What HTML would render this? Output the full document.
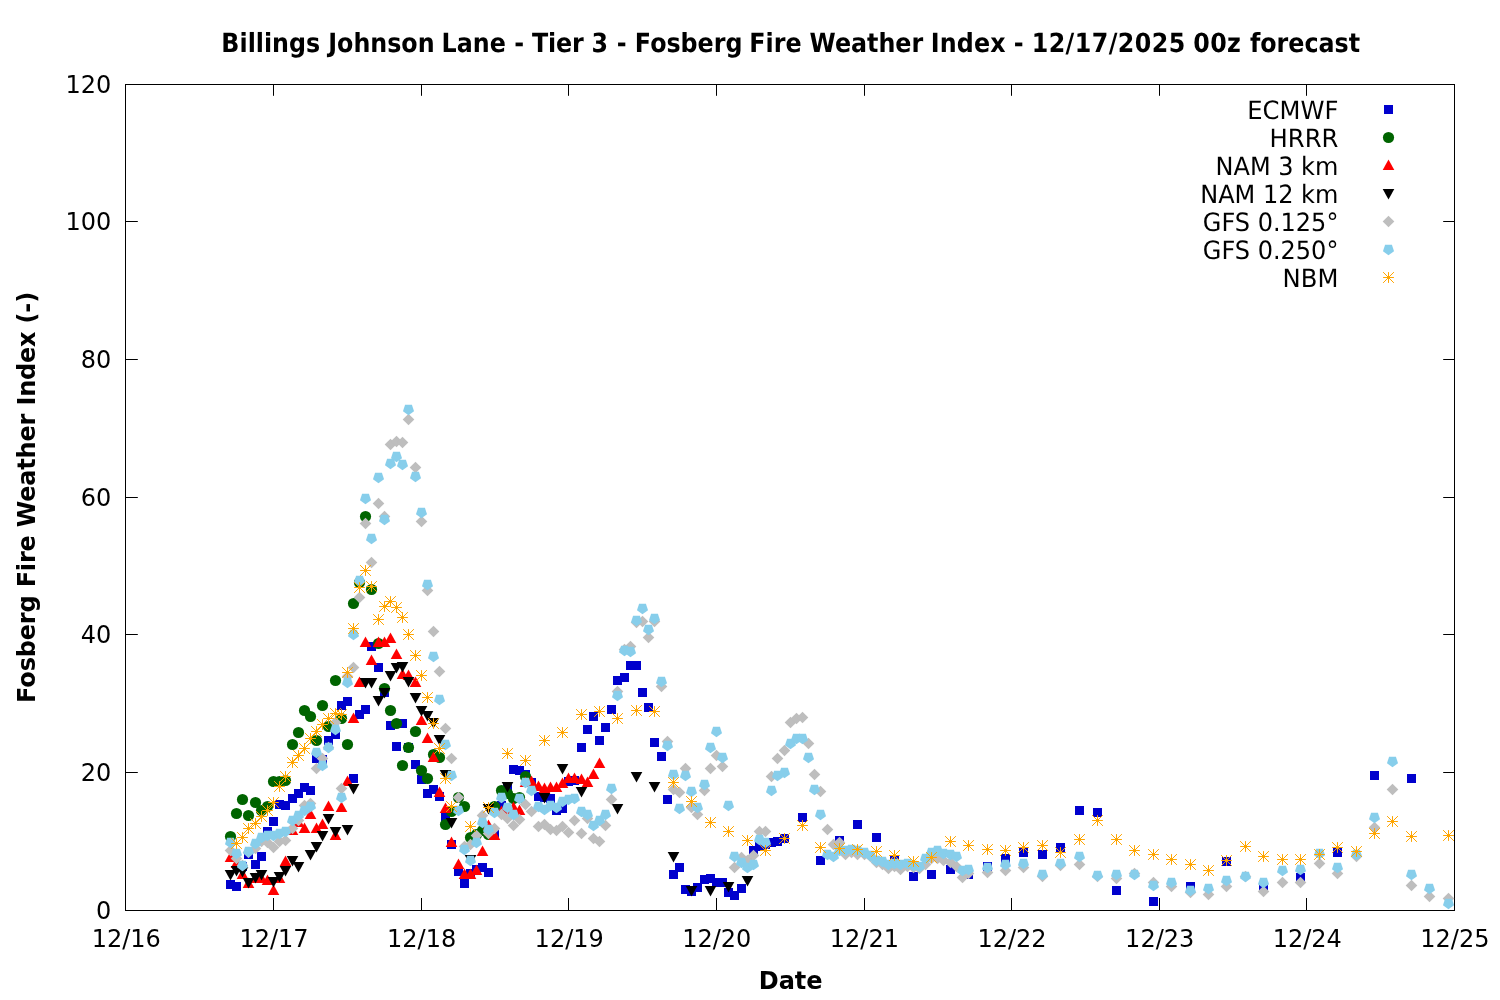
<!DOCTYPE html>
<html lang="en"><head><meta charset="utf-8"><title>Billings Johnson Lane - Tier 3 - Fosberg Fire Weather Index</title>
<style>html,body{margin:0;padding:0;background:#fff}svg{display:block}text{font-family:"DejaVu Sans","Liberation Sans",sans-serif;font-size:24px;fill:#000}.b{font-weight:bold}.g{text-rendering:geometricPrecision}.r{text-anchor:end}.m{text-anchor:middle}</style></head><body>
<svg width="1500" height="1000" viewBox="0 0 1500 1000">
<rect width="1500" height="1000" fill="#fff"/>
<text class="b g" transform="translate(0,52) scale(0.99,1.1)"><tspan x="223.61">Billings </tspan><tspan x="331.55">Johnson </tspan><tspan x="446.03">Lane </tspan><tspan x="519.56">- </tspan><tspan x="537.37" style="letter-spacing:-0.13px">Tier </tspan><tspan x="597.49">3 </tspan><tspan x="622.99">- </tspan><tspan x="641.29">Fosberg </tspan><tspan x="756.74" style="letter-spacing:0.12px">Fire </tspan><tspan x="817.73">Weather </tspan><tspan x="940.17" style="letter-spacing:0.15px">Index </tspan><tspan x="1024">- </tspan><tspan x="1042.1" style="letter-spacing:0.44px">12/17/2025 </tspan><tspan x="1205.21" style="letter-spacing:0.45px">00z </tspan><tspan x="1262.53">forecast</tspan></text>
<text class="b m" transform="translate(35,497.4) rotate(-90)" textLength="411">Fosberg Fire Weather Index (-)</text>
<text class="b m" x="790.7" y="989">Date</text>
<g fill="none" stroke="#000" stroke-width="1">
<rect x="125.5" y="84.5" width="1329.0" height="826.0"/>
<path d="M273.5,910.5V898M273.5,84.5V95.8M421.5,910.5V898M421.5,84.5V95.8M568.5,910.5V898M568.5,84.5V95.8M716.5,910.5V898M716.5,84.5V95.8M864.5,910.5V898M864.5,84.5V95.8M1011.5,910.5V898M1011.5,84.5V95.8M1159.5,910.5V898M1159.5,84.5V95.8M1306.5,910.5V898M1306.5,84.5V95.8M125.5,772.5H137.8M1454.5,772.5H1443.2M125.5,634.5H137.8M1454.5,634.5H1443.2M125.5,497.5H137.8M1454.5,497.5H1443.2M125.5,359.5H137.8M1454.5,359.5H1443.2M125.5,221.5H137.8M1454.5,221.5H1443.2"/>
</g>
<text class="m" x="126.3" y="947">12/16</text>
<text class="m" x="274" y="947">12/17</text>
<text class="m" x="421.6" y="947">12/18</text>
<text class="m" x="569.2" y="947">12/19</text>
<text class="m" x="716.8" y="947">12/20</text>
<text class="m" x="864.4" y="947">12/21</text>
<text class="m" x="1012" y="947">12/22</text>
<text class="m" x="1159.7" y="947">12/23</text>
<text class="m" x="1307.3" y="947">12/24</text>
<text class="m" x="1454.9" y="947">12/25</text>
<text class="r" x="111.4" y="919">0</text>
<text class="r" x="111.4" y="781">20</text>
<text class="r" x="111.4" y="643">40</text>
<text class="r" x="111.4" y="506">60</text>
<text class="r" x="111.4" y="368">80</text>
<text class="r" x="111.4" y="230">100</text>
<text class="r" x="111.4" y="93">120</text>
<text class="r g" transform="translate(1338.4,118.9) scale(1.012,1.05)">ECMWF</text>
<text class="r g" transform="translate(1338.4,146.9) scale(1.012,1.05)">HRRR</text>
<text class="r g" transform="translate(1338.4,174.9) scale(1,1.05)">NAM 3 km</text>
<text class="r g" transform="translate(1338.4,202.9) scale(1,1.05)">NAM 12 km</text>
<text class="r g" transform="translate(1338.4,230.9) scale(1,1.05)">GFS 0.125°</text>
<text class="r g" transform="translate(1338.4,258.9) scale(1,1.05)">GFS 0.250°</text>
<text class="r g" transform="translate(1338.4,286.9) scale(1.012,1.05)">NBM</text>
<g fill="#0000cd">
<rect x="1384" y="105" width="9" height="9"/>
<rect x="226" y="880" width="9" height="9"/>
<rect x="232" y="882" width="9" height="9"/>
<rect x="238" y="862" width="9" height="9"/>
<rect x="244" y="850" width="9" height="9"/>
<rect x="251" y="860" width="9" height="9"/>
<rect x="257" y="852" width="9" height="9"/>
<rect x="263" y="827" width="9" height="9"/>
<rect x="269" y="817" width="9" height="9"/>
<rect x="275" y="800" width="9" height="9"/>
<rect x="281" y="801" width="9" height="9"/>
<rect x="288" y="794" width="9" height="9"/>
<rect x="294" y="789" width="9" height="9"/>
<rect x="300" y="783" width="9" height="9"/>
<rect x="306" y="786" width="9" height="9"/>
<rect x="312" y="754" width="9" height="9"/>
<rect x="318" y="755" width="9" height="9"/>
<rect x="324" y="736" width="9" height="9"/>
<rect x="331" y="730" width="9" height="9"/>
<rect x="337" y="701" width="9" height="9"/>
<rect x="343" y="697" width="9" height="9"/>
<rect x="349" y="774" width="9" height="9"/>
<rect x="355" y="710" width="9" height="9"/>
<rect x="361" y="705" width="9" height="9"/>
<rect x="367" y="642" width="9" height="9"/>
<rect x="374" y="663" width="9" height="9"/>
<rect x="380" y="688" width="9" height="9"/>
<rect x="386" y="721" width="9" height="9"/>
<rect x="392" y="742" width="9" height="9"/>
<rect x="398" y="719" width="9" height="9"/>
<rect x="404" y="743" width="9" height="9"/>
<rect x="411" y="760" width="9" height="9"/>
<rect x="417" y="775" width="9" height="9"/>
<rect x="423" y="789" width="9" height="9"/>
<rect x="429" y="785" width="9" height="9"/>
<rect x="435" y="792" width="9" height="9"/>
<rect x="441" y="812" width="9" height="9"/>
<rect x="447" y="840" width="9" height="9"/>
<rect x="454" y="867" width="9" height="9"/>
<rect x="460" y="879" width="9" height="9"/>
<rect x="466" y="869" width="9" height="9"/>
<rect x="472" y="865" width="9" height="9"/>
<rect x="478" y="863" width="9" height="9"/>
<rect x="484" y="868" width="9" height="9"/>
<rect x="490" y="830" width="9" height="9"/>
<rect x="497" y="801" width="9" height="9"/>
<rect x="503" y="784" width="9" height="9"/>
<rect x="509" y="765" width="9" height="9"/>
<rect x="515" y="766" width="9" height="9"/>
<rect x="521" y="770" width="9" height="9"/>
<rect x="527" y="778" width="9" height="9"/>
<rect x="534" y="792" width="9" height="9"/>
<rect x="540" y="793" width="9" height="9"/>
<rect x="546" y="794" width="9" height="9"/>
<rect x="552" y="806" width="9" height="9"/>
<rect x="558" y="804" width="9" height="9"/>
<rect x="564" y="777" width="9" height="9"/>
<rect x="570" y="776" width="9" height="9"/>
<rect x="577" y="743" width="9" height="9"/>
<rect x="583" y="725" width="9" height="9"/>
<rect x="589" y="712" width="9" height="9"/>
<rect x="595" y="736" width="9" height="9"/>
<rect x="601" y="723" width="9" height="9"/>
<rect x="607" y="705" width="9" height="9"/>
<rect x="613" y="676" width="9" height="9"/>
<rect x="620" y="673" width="9" height="9"/>
<rect x="626" y="661" width="9" height="9"/>
<rect x="632" y="661" width="9" height="9"/>
<rect x="638" y="688" width="9" height="9"/>
<rect x="644" y="703" width="9" height="9"/>
<rect x="650" y="738" width="9" height="9"/>
<rect x="657" y="752" width="9" height="9"/>
<rect x="663" y="795" width="9" height="9"/>
<rect x="669" y="870" width="9" height="9"/>
<rect x="675" y="863" width="9" height="9"/>
<rect x="681" y="885" width="9" height="9"/>
<rect x="687" y="887" width="9" height="9"/>
<rect x="693" y="883" width="9" height="9"/>
<rect x="700" y="875" width="9" height="9"/>
<rect x="706" y="874" width="9" height="9"/>
<rect x="712" y="878" width="9" height="9"/>
<rect x="718" y="878" width="9" height="9"/>
<rect x="724" y="888" width="9" height="9"/>
<rect x="730" y="891" width="9" height="9"/>
<rect x="737" y="884" width="9" height="9"/>
<rect x="743" y="858" width="9" height="9"/>
<rect x="749" y="846" width="9" height="9"/>
<rect x="755" y="842" width="9" height="9"/>
<rect x="761" y="840" width="9" height="9"/>
<rect x="767" y="838" width="9" height="9"/>
<rect x="773" y="837" width="9" height="9"/>
<rect x="780" y="834" width="9" height="9"/>
<rect x="798" y="813" width="9" height="9"/>
<rect x="816" y="856" width="9" height="9"/>
<rect x="835" y="836" width="9" height="9"/>
<rect x="853" y="820" width="9" height="9"/>
<rect x="872" y="833" width="9" height="9"/>
<rect x="890" y="855" width="9" height="9"/>
<rect x="909" y="872" width="9" height="9"/>
<rect x="927" y="870" width="9" height="9"/>
<rect x="946" y="865" width="9" height="9"/>
<rect x="964" y="870" width="9" height="9"/>
<rect x="983" y="862" width="9" height="9"/>
<rect x="1001" y="854" width="9" height="9"/>
<rect x="1019" y="848" width="9" height="9"/>
<rect x="1038" y="850" width="9" height="9"/>
<rect x="1056" y="843" width="9" height="9"/>
<rect x="1075" y="806" width="9" height="9"/>
<rect x="1093" y="808" width="9" height="9"/>
<rect x="1112" y="886" width="9" height="9"/>
<rect x="1149" y="897" width="9" height="9"/>
<rect x="1186" y="882" width="9" height="9"/>
<rect x="1222" y="857" width="9" height="9"/>
<rect x="1259" y="882" width="9" height="9"/>
<rect x="1296" y="873" width="9" height="9"/>
<rect x="1333" y="848" width="9" height="9"/>
<rect x="1370" y="771" width="9" height="9"/>
<rect x="1407" y="774" width="9" height="9"/>
</g>
<g fill="#006400">
<circle cx="1388.5" cy="137.5" r="5.6"/>
<circle cx="230.5" cy="836.5" r="5.6"/>
<circle cx="236.5" cy="813.5" r="5.6"/>
<circle cx="242.5" cy="799.5" r="5.6"/>
<circle cx="248.5" cy="815.5" r="5.6"/>
<circle cx="255.5" cy="802.5" r="5.6"/>
<circle cx="261.5" cy="810.5" r="5.6"/>
<circle cx="267.5" cy="806.5" r="5.6"/>
<circle cx="273.5" cy="781.5" r="5.6"/>
<circle cx="279.5" cy="781.5" r="5.6"/>
<circle cx="285.5" cy="780.5" r="5.6"/>
<circle cx="292.5" cy="744.5" r="5.6"/>
<circle cx="298.5" cy="732.5" r="5.6"/>
<circle cx="304.5" cy="710.5" r="5.6"/>
<circle cx="310.5" cy="716.5" r="5.6"/>
<circle cx="316.5" cy="740.5" r="5.6"/>
<circle cx="322.5" cy="705.5" r="5.6"/>
<circle cx="328.5" cy="726.5" r="5.6"/>
<circle cx="335.5" cy="680.5" r="5.6"/>
<circle cx="341.5" cy="718.5" r="5.6"/>
<circle cx="347.5" cy="744.5" r="5.6"/>
<circle cx="353.5" cy="603.5" r="5.6"/>
<circle cx="359.5" cy="582.5" r="5.6"/>
<circle cx="365.5" cy="516.5" r="5.6"/>
<circle cx="371.5" cy="589.5" r="5.6"/>
<circle cx="378.5" cy="643.5" r="5.6"/>
<circle cx="384.5" cy="688.5" r="5.6"/>
<circle cx="390.5" cy="710.5" r="5.6"/>
<circle cx="396.5" cy="723.5" r="5.6"/>
<circle cx="402.5" cy="765.5" r="5.6"/>
<circle cx="408.5" cy="747.5" r="5.6"/>
<circle cx="415.5" cy="731.5" r="5.6"/>
<circle cx="421.5" cy="770.5" r="5.6"/>
<circle cx="427.5" cy="778.5" r="5.6"/>
<circle cx="433.5" cy="754.5" r="5.6"/>
<circle cx="439.5" cy="757.5" r="5.6"/>
<circle cx="445.5" cy="824.5" r="5.6"/>
<circle cx="451.5" cy="811.5" r="5.6"/>
<circle cx="458.5" cy="797.5" r="5.6"/>
<circle cx="464.5" cy="806.5" r="5.6"/>
<circle cx="470.5" cy="837.5" r="5.6"/>
<circle cx="476.5" cy="834.5" r="5.6"/>
<circle cx="482.5" cy="830.5" r="5.6"/>
<circle cx="488.5" cy="834.5" r="5.6"/>
<circle cx="494.5" cy="806.5" r="5.6"/>
<circle cx="501.5" cy="790.5" r="5.6"/>
<circle cx="507.5" cy="793.5" r="5.6"/>
<circle cx="513.5" cy="798.5" r="5.6"/>
<circle cx="519.5" cy="797.5" r="5.6"/>
<circle cx="525.5" cy="776.5" r="5.6"/>
</g>
<g fill="#ff0000">
<path d="M1388.5,159.4l5.8,10.7h-11.6z"/>
<path d="M230.5,851.4l5.8,10.7h-11.6z"/>
<path d="M236.5,857.4l5.8,10.7h-11.6z"/>
<path d="M242.5,868.4l5.8,10.7h-11.6z"/>
<path d="M248.5,877.4l5.8,10.7h-11.6z"/>
<path d="M255.5,872.4l5.8,10.7h-11.6z"/>
<path d="M261.5,872.4l5.8,10.7h-11.6z"/>
<path d="M267.5,874.4l5.8,10.7h-11.6z"/>
<path d="M273.5,884.4l5.8,10.7h-11.6z"/>
<path d="M279.5,872.4l5.8,10.7h-11.6z"/>
<path d="M285.5,855.4l5.8,10.7h-11.6z"/>
<path d="M292.5,824.4l5.8,10.7h-11.6z"/>
<path d="M298.5,816.4l5.8,10.7h-11.6z"/>
<path d="M304.5,822.4l5.8,10.7h-11.6z"/>
<path d="M310.5,808.4l5.8,10.7h-11.6z"/>
<path d="M316.5,822.4l5.8,10.7h-11.6z"/>
<path d="M322.5,818.4l5.8,10.7h-11.6z"/>
<path d="M328.5,800.4l5.8,10.7h-11.6z"/>
<path d="M335.5,829.4l5.8,10.7h-11.6z"/>
<path d="M341.5,801.4l5.8,10.7h-11.6z"/>
<path d="M347.5,775.4l5.8,10.7h-11.6z"/>
<path d="M353.5,712.4l5.8,10.7h-11.6z"/>
<path d="M359.5,676.4l5.8,10.7h-11.6z"/>
<path d="M365.5,636.4l5.8,10.7h-11.6z"/>
<path d="M371.5,654.4l5.8,10.7h-11.6z"/>
<path d="M378.5,636.4l5.8,10.7h-11.6z"/>
<path d="M384.5,636.4l5.8,10.7h-11.6z"/>
<path d="M390.5,632.4l5.8,10.7h-11.6z"/>
<path d="M396.5,648.4l5.8,10.7h-11.6z"/>
<path d="M402.5,668.4l5.8,10.7h-11.6z"/>
<path d="M408.5,669.4l5.8,10.7h-11.6z"/>
<path d="M415.5,676.4l5.8,10.7h-11.6z"/>
<path d="M421.5,714.4l5.8,10.7h-11.6z"/>
<path d="M427.5,732.4l5.8,10.7h-11.6z"/>
<path d="M433.5,751.4l5.8,10.7h-11.6z"/>
<path d="M439.5,786.4l5.8,10.7h-11.6z"/>
<path d="M445.5,802.4l5.8,10.7h-11.6z"/>
<path d="M451.5,836.4l5.8,10.7h-11.6z"/>
<path d="M458.5,858.4l5.8,10.7h-11.6z"/>
<path d="M464.5,868.4l5.8,10.7h-11.6z"/>
<path d="M470.5,868.4l5.8,10.7h-11.6z"/>
<path d="M476.5,864.4l5.8,10.7h-11.6z"/>
<path d="M482.5,845.4l5.8,10.7h-11.6z"/>
<path d="M488.5,819.4l5.8,10.7h-11.6z"/>
<path d="M494.5,829.4l5.8,10.7h-11.6z"/>
<path d="M501.5,805.4l5.8,10.7h-11.6z"/>
<path d="M507.5,803.4l5.8,10.7h-11.6z"/>
<path d="M513.5,801.4l5.8,10.7h-11.6z"/>
<path d="M519.5,804.4l5.8,10.7h-11.6z"/>
<path d="M525.5,776.4l5.8,10.7h-11.6z"/>
<path d="M531.5,775.4l5.8,10.7h-11.6z"/>
<path d="M538.5,780.4l5.8,10.7h-11.6z"/>
<path d="M544.5,782.4l5.8,10.7h-11.6z"/>
<path d="M550.5,781.4l5.8,10.7h-11.6z"/>
<path d="M556.5,781.4l5.8,10.7h-11.6z"/>
<path d="M562.5,777.4l5.8,10.7h-11.6z"/>
<path d="M568.5,772.4l5.8,10.7h-11.6z"/>
<path d="M574.5,772.4l5.8,10.7h-11.6z"/>
<path d="M581.5,773.4l5.8,10.7h-11.6z"/>
<path d="M587.5,776.4l5.8,10.7h-11.6z"/>
<path d="M593.5,768.4l5.8,10.7h-11.6z"/>
<path d="M599.5,757.4l5.8,10.7h-11.6z"/>
</g>
<g fill="#000000">
<path d="M1388.5,199.4l5.8,-10.5h-11.6z"/>
<path d="M230.5,880.4l5.8,-10.5h-11.6z"/>
<path d="M236.5,876.4l5.8,-10.5h-11.6z"/>
<path d="M242.5,877.4l5.8,-10.5h-11.6z"/>
<path d="M248.5,888.4l5.8,-10.5h-11.6z"/>
<path d="M255.5,883.4l5.8,-10.5h-11.6z"/>
<path d="M261.5,880.4l5.8,-10.5h-11.6z"/>
<path d="M273.5,887.4l5.8,-10.5h-11.6z"/>
<path d="M279.5,882.4l5.8,-10.5h-11.6z"/>
<path d="M285.5,876.4l5.8,-10.5h-11.6z"/>
<path d="M292.5,866.4l5.8,-10.5h-11.6z"/>
<path d="M298.5,872.4l5.8,-10.5h-11.6z"/>
<path d="M310.5,860.4l5.8,-10.5h-11.6z"/>
<path d="M316.5,852.4l5.8,-10.5h-11.6z"/>
<path d="M322.5,841.4l5.8,-10.5h-11.6z"/>
<path d="M328.5,824.4l5.8,-10.5h-11.6z"/>
<path d="M335.5,837.4l5.8,-10.5h-11.6z"/>
<path d="M347.5,835.4l5.8,-10.5h-11.6z"/>
<path d="M353.5,794.4l5.8,-10.5h-11.6z"/>
<path d="M365.5,688.4l5.8,-10.5h-11.6z"/>
<path d="M371.5,688.4l5.8,-10.5h-11.6z"/>
<path d="M378.5,706.4l5.8,-10.5h-11.6z"/>
<path d="M384.5,698.4l5.8,-10.5h-11.6z"/>
<path d="M390.5,681.4l5.8,-10.5h-11.6z"/>
<path d="M396.5,673.4l5.8,-10.5h-11.6z"/>
<path d="M402.5,672.4l5.8,-10.5h-11.6z"/>
<path d="M408.5,687.4l5.8,-10.5h-11.6z"/>
<path d="M415.5,703.4l5.8,-10.5h-11.6z"/>
<path d="M421.5,716.4l5.8,-10.5h-11.6z"/>
<path d="M427.5,721.4l5.8,-10.5h-11.6z"/>
<path d="M433.5,728.4l5.8,-10.5h-11.6z"/>
<path d="M439.5,745.4l5.8,-10.5h-11.6z"/>
<path d="M445.5,780.4l5.8,-10.5h-11.6z"/>
<path d="M451.5,828.4l5.8,-10.5h-11.6z"/>
<path d="M470.5,865.4l5.8,-10.5h-11.6z"/>
<path d="M488.5,814.4l5.8,-10.5h-11.6z"/>
<path d="M507.5,792.4l5.8,-10.5h-11.6z"/>
<path d="M544.5,803.4l5.8,-10.5h-11.6z"/>
<path d="M562.5,774.4l5.8,-10.5h-11.6z"/>
<path d="M581.5,797.4l5.8,-10.5h-11.6z"/>
<path d="M617.5,814.4l5.8,-10.5h-11.6z"/>
<path d="M636.5,782.4l5.8,-10.5h-11.6z"/>
<path d="M654.5,792.4l5.8,-10.5h-11.6z"/>
<path d="M673.5,862.4l5.8,-10.5h-11.6z"/>
<path d="M691.5,896.4l5.8,-10.5h-11.6z"/>
<path d="M710.5,896.4l5.8,-10.5h-11.6z"/>
<path d="M728.5,892.4l5.8,-10.5h-11.6z"/>
<path d="M747.5,886.4l5.8,-10.5h-11.6z"/>
</g>
<g fill="#bebebe">
<path d="M1388.5,215.8l5.8,5.7l-5.8,5.7l-5.8,-5.7z"/>
<path d="M230.5,844.8l5.8,5.7l-5.8,5.7l-5.8,-5.7z"/>
<path d="M236.5,852.8l5.8,5.7l-5.8,5.7l-5.8,-5.7z"/>
<path d="M242.5,859.8l5.8,5.7l-5.8,5.7l-5.8,-5.7z"/>
<path d="M248.5,846.8l5.8,5.7l-5.8,5.7l-5.8,-5.7z"/>
<path d="M255.5,842.8l5.8,5.7l-5.8,5.7l-5.8,-5.7z"/>
<path d="M261.5,835.8l5.8,5.7l-5.8,5.7l-5.8,-5.7z"/>
<path d="M267.5,836.8l5.8,5.7l-5.8,5.7l-5.8,-5.7z"/>
<path d="M273.5,841.8l5.8,5.7l-5.8,5.7l-5.8,-5.7z"/>
<path d="M279.5,835.8l5.8,5.7l-5.8,5.7l-5.8,-5.7z"/>
<path d="M285.5,834.8l5.8,5.7l-5.8,5.7l-5.8,-5.7z"/>
<path d="M292.5,822.8l5.8,5.7l-5.8,5.7l-5.8,-5.7z"/>
<path d="M298.5,814.8l5.8,5.7l-5.8,5.7l-5.8,-5.7z"/>
<path d="M304.5,799.8l5.8,5.7l-5.8,5.7l-5.8,-5.7z"/>
<path d="M310.5,797.8l5.8,5.7l-5.8,5.7l-5.8,-5.7z"/>
<path d="M316.5,762.8l5.8,5.7l-5.8,5.7l-5.8,-5.7z"/>
<path d="M322.5,752.8l5.8,5.7l-5.8,5.7l-5.8,-5.7z"/>
<path d="M328.5,741.8l5.8,5.7l-5.8,5.7l-5.8,-5.7z"/>
<path d="M335.5,716.8l5.8,5.7l-5.8,5.7l-5.8,-5.7z"/>
<path d="M341.5,782.8l5.8,5.7l-5.8,5.7l-5.8,-5.7z"/>
<path d="M347.5,670.8l5.8,5.7l-5.8,5.7l-5.8,-5.7z"/>
<path d="M353.5,661.8l5.8,5.7l-5.8,5.7l-5.8,-5.7z"/>
<path d="M359.5,591.8l5.8,5.7l-5.8,5.7l-5.8,-5.7z"/>
<path d="M365.5,517.8l5.8,5.7l-5.8,5.7l-5.8,-5.7z"/>
<path d="M371.5,556.8l5.8,5.7l-5.8,5.7l-5.8,-5.7z"/>
<path d="M378.5,497.8l5.8,5.7l-5.8,5.7l-5.8,-5.7z"/>
<path d="M384.5,510.8l5.8,5.7l-5.8,5.7l-5.8,-5.7z"/>
<path d="M390.5,438.8l5.8,5.7l-5.8,5.7l-5.8,-5.7z"/>
<path d="M396.5,435.8l5.8,5.7l-5.8,5.7l-5.8,-5.7z"/>
<path d="M402.5,436.8l5.8,5.7l-5.8,5.7l-5.8,-5.7z"/>
<path d="M408.5,413.8l5.8,5.7l-5.8,5.7l-5.8,-5.7z"/>
<path d="M415.5,461.8l5.8,5.7l-5.8,5.7l-5.8,-5.7z"/>
<path d="M421.5,515.8l5.8,5.7l-5.8,5.7l-5.8,-5.7z"/>
<path d="M427.5,584.8l5.8,5.7l-5.8,5.7l-5.8,-5.7z"/>
<path d="M433.5,625.8l5.8,5.7l-5.8,5.7l-5.8,-5.7z"/>
<path d="M439.5,665.8l5.8,5.7l-5.8,5.7l-5.8,-5.7z"/>
<path d="M445.5,722.8l5.8,5.7l-5.8,5.7l-5.8,-5.7z"/>
<path d="M451.5,752.8l5.8,5.7l-5.8,5.7l-5.8,-5.7z"/>
<path d="M458.5,791.8l5.8,5.7l-5.8,5.7l-5.8,-5.7z"/>
<path d="M464.5,840.8l5.8,5.7l-5.8,5.7l-5.8,-5.7z"/>
<path d="M470.5,838.8l5.8,5.7l-5.8,5.7l-5.8,-5.7z"/>
<path d="M476.5,829.8l5.8,5.7l-5.8,5.7l-5.8,-5.7z"/>
<path d="M482.5,809.8l5.8,5.7l-5.8,5.7l-5.8,-5.7z"/>
<path d="M488.5,827.8l5.8,5.7l-5.8,5.7l-5.8,-5.7z"/>
<path d="M494.5,822.8l5.8,5.7l-5.8,5.7l-5.8,-5.7z"/>
<path d="M501.5,808.8l5.8,5.7l-5.8,5.7l-5.8,-5.7z"/>
<path d="M507.5,812.8l5.8,5.7l-5.8,5.7l-5.8,-5.7z"/>
<path d="M513.5,819.8l5.8,5.7l-5.8,5.7l-5.8,-5.7z"/>
<path d="M519.5,813.8l5.8,5.7l-5.8,5.7l-5.8,-5.7z"/>
<path d="M525.5,798.8l5.8,5.7l-5.8,5.7l-5.8,-5.7z"/>
<path d="M531.5,805.8l5.8,5.7l-5.8,5.7l-5.8,-5.7z"/>
<path d="M538.5,820.8l5.8,5.7l-5.8,5.7l-5.8,-5.7z"/>
<path d="M544.5,818.8l5.8,5.7l-5.8,5.7l-5.8,-5.7z"/>
<path d="M550.5,823.8l5.8,5.7l-5.8,5.7l-5.8,-5.7z"/>
<path d="M556.5,824.8l5.8,5.7l-5.8,5.7l-5.8,-5.7z"/>
<path d="M562.5,820.8l5.8,5.7l-5.8,5.7l-5.8,-5.7z"/>
<path d="M568.5,826.8l5.8,5.7l-5.8,5.7l-5.8,-5.7z"/>
<path d="M574.5,814.8l5.8,5.7l-5.8,5.7l-5.8,-5.7z"/>
<path d="M581.5,827.8l5.8,5.7l-5.8,5.7l-5.8,-5.7z"/>
<path d="M587.5,812.8l5.8,5.7l-5.8,5.7l-5.8,-5.7z"/>
<path d="M593.5,832.8l5.8,5.7l-5.8,5.7l-5.8,-5.7z"/>
<path d="M599.5,835.8l5.8,5.7l-5.8,5.7l-5.8,-5.7z"/>
<path d="M605.5,819.8l5.8,5.7l-5.8,5.7l-5.8,-5.7z"/>
<path d="M611.5,793.8l5.8,5.7l-5.8,5.7l-5.8,-5.7z"/>
<path d="M617.5,685.8l5.8,5.7l-5.8,5.7l-5.8,-5.7z"/>
<path d="M624.5,643.8l5.8,5.7l-5.8,5.7l-5.8,-5.7z"/>
<path d="M630.5,640.8l5.8,5.7l-5.8,5.7l-5.8,-5.7z"/>
<path d="M636.5,616.8l5.8,5.7l-5.8,5.7l-5.8,-5.7z"/>
<path d="M642.5,615.8l5.8,5.7l-5.8,5.7l-5.8,-5.7z"/>
<path d="M648.5,631.8l5.8,5.7l-5.8,5.7l-5.8,-5.7z"/>
<path d="M654.5,615.8l5.8,5.7l-5.8,5.7l-5.8,-5.7z"/>
<path d="M661.5,680.8l5.8,5.7l-5.8,5.7l-5.8,-5.7z"/>
<path d="M667.5,735.8l5.8,5.7l-5.8,5.7l-5.8,-5.7z"/>
<path d="M673.5,783.8l5.8,5.7l-5.8,5.7l-5.8,-5.7z"/>
<path d="M679.5,786.8l5.8,5.7l-5.8,5.7l-5.8,-5.7z"/>
<path d="M685.5,762.8l5.8,5.7l-5.8,5.7l-5.8,-5.7z"/>
<path d="M691.5,801.8l5.8,5.7l-5.8,5.7l-5.8,-5.7z"/>
<path d="M697.5,808.8l5.8,5.7l-5.8,5.7l-5.8,-5.7z"/>
<path d="M704.5,784.8l5.8,5.7l-5.8,5.7l-5.8,-5.7z"/>
<path d="M710.5,762.8l5.8,5.7l-5.8,5.7l-5.8,-5.7z"/>
<path d="M716.5,749.8l5.8,5.7l-5.8,5.7l-5.8,-5.7z"/>
<path d="M722.5,760.8l5.8,5.7l-5.8,5.7l-5.8,-5.7z"/>
<path d="M734.5,861.8l5.8,5.7l-5.8,5.7l-5.8,-5.7z"/>
<path d="M741.5,851.8l5.8,5.7l-5.8,5.7l-5.8,-5.7z"/>
<path d="M747.5,854.8l5.8,5.7l-5.8,5.7l-5.8,-5.7z"/>
<path d="M753.5,849.8l5.8,5.7l-5.8,5.7l-5.8,-5.7z"/>
<path d="M759.5,825.8l5.8,5.7l-5.8,5.7l-5.8,-5.7z"/>
<path d="M765.5,825.8l5.8,5.7l-5.8,5.7l-5.8,-5.7z"/>
<path d="M771.5,770.8l5.8,5.7l-5.8,5.7l-5.8,-5.7z"/>
<path d="M777.5,752.8l5.8,5.7l-5.8,5.7l-5.8,-5.7z"/>
<path d="M784.5,744.8l5.8,5.7l-5.8,5.7l-5.8,-5.7z"/>
<path d="M790.5,716.8l5.8,5.7l-5.8,5.7l-5.8,-5.7z"/>
<path d="M796.5,712.8l5.8,5.7l-5.8,5.7l-5.8,-5.7z"/>
<path d="M802.5,711.8l5.8,5.7l-5.8,5.7l-5.8,-5.7z"/>
<path d="M808.5,737.8l5.8,5.7l-5.8,5.7l-5.8,-5.7z"/>
<path d="M814.5,768.8l5.8,5.7l-5.8,5.7l-5.8,-5.7z"/>
<path d="M820.5,785.8l5.8,5.7l-5.8,5.7l-5.8,-5.7z"/>
<path d="M827.5,823.8l5.8,5.7l-5.8,5.7l-5.8,-5.7z"/>
<path d="M833.5,838.8l5.8,5.7l-5.8,5.7l-5.8,-5.7z"/>
<path d="M839.5,836.8l5.8,5.7l-5.8,5.7l-5.8,-5.7z"/>
<path d="M845.5,848.8l5.8,5.7l-5.8,5.7l-5.8,-5.7z"/>
<path d="M851.5,846.8l5.8,5.7l-5.8,5.7l-5.8,-5.7z"/>
<path d="M857.5,848.8l5.8,5.7l-5.8,5.7l-5.8,-5.7z"/>
<path d="M864.5,848.8l5.8,5.7l-5.8,5.7l-5.8,-5.7z"/>
<path d="M870.5,850.8l5.8,5.7l-5.8,5.7l-5.8,-5.7z"/>
<path d="M876.5,856.8l5.8,5.7l-5.8,5.7l-5.8,-5.7z"/>
<path d="M882.5,858.8l5.8,5.7l-5.8,5.7l-5.8,-5.7z"/>
<path d="M888.5,862.8l5.8,5.7l-5.8,5.7l-5.8,-5.7z"/>
<path d="M894.5,860.8l5.8,5.7l-5.8,5.7l-5.8,-5.7z"/>
<path d="M900.5,863.8l5.8,5.7l-5.8,5.7l-5.8,-5.7z"/>
<path d="M907.5,860.8l5.8,5.7l-5.8,5.7l-5.8,-5.7z"/>
<path d="M913.5,861.8l5.8,5.7l-5.8,5.7l-5.8,-5.7z"/>
<path d="M919.5,862.8l5.8,5.7l-5.8,5.7l-5.8,-5.7z"/>
<path d="M925.5,858.8l5.8,5.7l-5.8,5.7l-5.8,-5.7z"/>
<path d="M931.5,852.8l5.8,5.7l-5.8,5.7l-5.8,-5.7z"/>
<path d="M937.5,852.8l5.8,5.7l-5.8,5.7l-5.8,-5.7z"/>
<path d="M943.5,854.8l5.8,5.7l-5.8,5.7l-5.8,-5.7z"/>
<path d="M950.5,856.8l5.8,5.7l-5.8,5.7l-5.8,-5.7z"/>
<path d="M956.5,860.8l5.8,5.7l-5.8,5.7l-5.8,-5.7z"/>
<path d="M962.5,871.8l5.8,5.7l-5.8,5.7l-5.8,-5.7z"/>
<path d="M968.5,867.8l5.8,5.7l-5.8,5.7l-5.8,-5.7z"/>
<path d="M987.5,866.8l5.8,5.7l-5.8,5.7l-5.8,-5.7z"/>
<path d="M1005.5,864.8l5.8,5.7l-5.8,5.7l-5.8,-5.7z"/>
<path d="M1023.5,861.8l5.8,5.7l-5.8,5.7l-5.8,-5.7z"/>
<path d="M1042.5,870.8l5.8,5.7l-5.8,5.7l-5.8,-5.7z"/>
<path d="M1060.5,859.8l5.8,5.7l-5.8,5.7l-5.8,-5.7z"/>
<path d="M1079.5,858.8l5.8,5.7l-5.8,5.7l-5.8,-5.7z"/>
<path d="M1097.5,870.8l5.8,5.7l-5.8,5.7l-5.8,-5.7z"/>
<path d="M1116.5,872.8l5.8,5.7l-5.8,5.7l-5.8,-5.7z"/>
<path d="M1134.5,867.8l5.8,5.7l-5.8,5.7l-5.8,-5.7z"/>
<path d="M1153.5,876.8l5.8,5.7l-5.8,5.7l-5.8,-5.7z"/>
<path d="M1171.5,880.8l5.8,5.7l-5.8,5.7l-5.8,-5.7z"/>
<path d="M1190.5,886.8l5.8,5.7l-5.8,5.7l-5.8,-5.7z"/>
<path d="M1208.5,888.8l5.8,5.7l-5.8,5.7l-5.8,-5.7z"/>
<path d="M1226.5,880.8l5.8,5.7l-5.8,5.7l-5.8,-5.7z"/>
<path d="M1245.5,870.8l5.8,5.7l-5.8,5.7l-5.8,-5.7z"/>
<path d="M1263.5,885.8l5.8,5.7l-5.8,5.7l-5.8,-5.7z"/>
<path d="M1282.5,876.8l5.8,5.7l-5.8,5.7l-5.8,-5.7z"/>
<path d="M1300.5,876.8l5.8,5.7l-5.8,5.7l-5.8,-5.7z"/>
<path d="M1319.5,857.8l5.8,5.7l-5.8,5.7l-5.8,-5.7z"/>
<path d="M1337.5,867.8l5.8,5.7l-5.8,5.7l-5.8,-5.7z"/>
<path d="M1356.5,850.8l5.8,5.7l-5.8,5.7l-5.8,-5.7z"/>
<path d="M1374.5,821.8l5.8,5.7l-5.8,5.7l-5.8,-5.7z"/>
<path d="M1392.5,783.8l5.8,5.7l-5.8,5.7l-5.8,-5.7z"/>
<path d="M1411.5,879.8l5.8,5.7l-5.8,5.7l-5.8,-5.7z"/>
<path d="M1429.5,890.8l5.8,5.7l-5.8,5.7l-5.8,-5.7z"/>
<path d="M1448.5,892.8l5.8,5.7l-5.8,5.7l-5.8,-5.7z"/>
</g>
<g fill="#87ceeb">
<path d="M1388.5,255.3l-5.52,-4.01l2.11,-6.48h6.82l2.11,6.48z"/>
<path d="M230.5,848.3l-5.52,-4.01l2.11,-6.48h6.82l2.11,6.48z"/>
<path d="M236.5,859.3l-5.52,-4.01l2.11,-6.48h6.82l2.11,6.48z"/>
<path d="M242.5,871.3l-5.52,-4.01l2.11,-6.48h6.82l2.11,6.48z"/>
<path d="M248.5,857.3l-5.52,-4.01l2.11,-6.48h6.82l2.11,6.48z"/>
<path d="M255.5,849.3l-5.52,-4.01l2.11,-6.48h6.82l2.11,6.48z"/>
<path d="M261.5,843.3l-5.52,-4.01l2.11,-6.48h6.82l2.11,6.48z"/>
<path d="M267.5,841.3l-5.52,-4.01l2.11,-6.48h6.82l2.11,6.48z"/>
<path d="M273.5,841.3l-5.52,-4.01l2.11,-6.48h6.82l2.11,6.48z"/>
<path d="M279.5,839.3l-5.52,-4.01l2.11,-6.48h6.82l2.11,6.48z"/>
<path d="M285.5,837.3l-5.52,-4.01l2.11,-6.48h6.82l2.11,6.48z"/>
<path d="M292.5,826.3l-5.52,-4.01l2.11,-6.48h6.82l2.11,6.48z"/>
<path d="M298.5,821.3l-5.52,-4.01l2.11,-6.48h6.82l2.11,6.48z"/>
<path d="M304.5,816.3l-5.52,-4.01l2.11,-6.48h6.82l2.11,6.48z"/>
<path d="M310.5,812.3l-5.52,-4.01l2.11,-6.48h6.82l2.11,6.48z"/>
<path d="M316.5,758.3l-5.52,-4.01l2.11,-6.48h6.82l2.11,6.48z"/>
<path d="M322.5,771.3l-5.52,-4.01l2.11,-6.48h6.82l2.11,6.48z"/>
<path d="M328.5,753.3l-5.52,-4.01l2.11,-6.48h6.82l2.11,6.48z"/>
<path d="M335.5,735.3l-5.52,-4.01l2.11,-6.48h6.82l2.11,6.48z"/>
<path d="M341.5,803.3l-5.52,-4.01l2.11,-6.48h6.82l2.11,6.48z"/>
<path d="M347.5,688.3l-5.52,-4.01l2.11,-6.48h6.82l2.11,6.48z"/>
<path d="M353.5,640.3l-5.52,-4.01l2.11,-6.48h6.82l2.11,6.48z"/>
<path d="M359.5,586.3l-5.52,-4.01l2.11,-6.48h6.82l2.11,6.48z"/>
<path d="M365.5,504.3l-5.52,-4.01l2.11,-6.48h6.82l2.11,6.48z"/>
<path d="M371.5,544.3l-5.52,-4.01l2.11,-6.48h6.82l2.11,6.48z"/>
<path d="M378.5,483.3l-5.52,-4.01l2.11,-6.48h6.82l2.11,6.48z"/>
<path d="M384.5,525.3l-5.52,-4.01l2.11,-6.48h6.82l2.11,6.48z"/>
<path d="M390.5,469.3l-5.52,-4.01l2.11,-6.48h6.82l2.11,6.48z"/>
<path d="M396.5,462.3l-5.52,-4.01l2.11,-6.48h6.82l2.11,6.48z"/>
<path d="M402.5,470.3l-5.52,-4.01l2.11,-6.48h6.82l2.11,6.48z"/>
<path d="M408.5,415.3l-5.52,-4.01l2.11,-6.48h6.82l2.11,6.48z"/>
<path d="M415.5,482.3l-5.52,-4.01l2.11,-6.48h6.82l2.11,6.48z"/>
<path d="M421.5,518.3l-5.52,-4.01l2.11,-6.48h6.82l2.11,6.48z"/>
<path d="M427.5,590.3l-5.52,-4.01l2.11,-6.48h6.82l2.11,6.48z"/>
<path d="M433.5,662.3l-5.52,-4.01l2.11,-6.48h6.82l2.11,6.48z"/>
<path d="M439.5,705.3l-5.52,-4.01l2.11,-6.48h6.82l2.11,6.48z"/>
<path d="M445.5,750.3l-5.52,-4.01l2.11,-6.48h6.82l2.11,6.48z"/>
<path d="M451.5,781.3l-5.52,-4.01l2.11,-6.48h6.82l2.11,6.48z"/>
<path d="M458.5,816.3l-5.52,-4.01l2.11,-6.48h6.82l2.11,6.48z"/>
<path d="M464.5,855.3l-5.52,-4.01l2.11,-6.48h6.82l2.11,6.48z"/>
<path d="M470.5,866.3l-5.52,-4.01l2.11,-6.48h6.82l2.11,6.48z"/>
<path d="M476.5,848.3l-5.52,-4.01l2.11,-6.48h6.82l2.11,6.48z"/>
<path d="M482.5,828.3l-5.52,-4.01l2.11,-6.48h6.82l2.11,6.48z"/>
<path d="M488.5,835.3l-5.52,-4.01l2.11,-6.48h6.82l2.11,6.48z"/>
<path d="M494.5,818.3l-5.52,-4.01l2.11,-6.48h6.82l2.11,6.48z"/>
<path d="M501.5,803.3l-5.52,-4.01l2.11,-6.48h6.82l2.11,6.48z"/>
<path d="M507.5,813.3l-5.52,-4.01l2.11,-6.48h6.82l2.11,6.48z"/>
<path d="M513.5,820.3l-5.52,-4.01l2.11,-6.48h6.82l2.11,6.48z"/>
<path d="M519.5,804.3l-5.52,-4.01l2.11,-6.48h6.82l2.11,6.48z"/>
<path d="M525.5,788.3l-5.52,-4.01l2.11,-6.48h6.82l2.11,6.48z"/>
<path d="M531.5,796.3l-5.52,-4.01l2.11,-6.48h6.82l2.11,6.48z"/>
<path d="M538.5,812.3l-5.52,-4.01l2.11,-6.48h6.82l2.11,6.48z"/>
<path d="M544.5,815.3l-5.52,-4.01l2.11,-6.48h6.82l2.11,6.48z"/>
<path d="M550.5,811.3l-5.52,-4.01l2.11,-6.48h6.82l2.11,6.48z"/>
<path d="M556.5,813.3l-5.52,-4.01l2.11,-6.48h6.82l2.11,6.48z"/>
<path d="M562.5,807.3l-5.52,-4.01l2.11,-6.48h6.82l2.11,6.48z"/>
<path d="M568.5,805.3l-5.52,-4.01l2.11,-6.48h6.82l2.11,6.48z"/>
<path d="M574.5,804.3l-5.52,-4.01l2.11,-6.48h6.82l2.11,6.48z"/>
<path d="M581.5,817.3l-5.52,-4.01l2.11,-6.48h6.82l2.11,6.48z"/>
<path d="M587.5,820.3l-5.52,-4.01l2.11,-6.48h6.82l2.11,6.48z"/>
<path d="M593.5,831.3l-5.52,-4.01l2.11,-6.48h6.82l2.11,6.48z"/>
<path d="M599.5,826.3l-5.52,-4.01l2.11,-6.48h6.82l2.11,6.48z"/>
<path d="M605.5,820.3l-5.52,-4.01l2.11,-6.48h6.82l2.11,6.48z"/>
<path d="M611.5,794.3l-5.52,-4.01l2.11,-6.48h6.82l2.11,6.48z"/>
<path d="M617.5,701.3l-5.52,-4.01l2.11,-6.48h6.82l2.11,6.48z"/>
<path d="M624.5,656.3l-5.52,-4.01l2.11,-6.48h6.82l2.11,6.48z"/>
<path d="M630.5,657.3l-5.52,-4.01l2.11,-6.48h6.82l2.11,6.48z"/>
<path d="M636.5,626.3l-5.52,-4.01l2.11,-6.48h6.82l2.11,6.48z"/>
<path d="M642.5,614.3l-5.52,-4.01l2.11,-6.48h6.82l2.11,6.48z"/>
<path d="M648.5,635.3l-5.52,-4.01l2.11,-6.48h6.82l2.11,6.48z"/>
<path d="M654.5,624.3l-5.52,-4.01l2.11,-6.48h6.82l2.11,6.48z"/>
<path d="M661.5,687.3l-5.52,-4.01l2.11,-6.48h6.82l2.11,6.48z"/>
<path d="M667.5,751.3l-5.52,-4.01l2.11,-6.48h6.82l2.11,6.48z"/>
<path d="M673.5,780.3l-5.52,-4.01l2.11,-6.48h6.82l2.11,6.48z"/>
<path d="M679.5,814.3l-5.52,-4.01l2.11,-6.48h6.82l2.11,6.48z"/>
<path d="M685.5,781.3l-5.52,-4.01l2.11,-6.48h6.82l2.11,6.48z"/>
<path d="M691.5,797.3l-5.52,-4.01l2.11,-6.48h6.82l2.11,6.48z"/>
<path d="M697.5,813.3l-5.52,-4.01l2.11,-6.48h6.82l2.11,6.48z"/>
<path d="M704.5,790.3l-5.52,-4.01l2.11,-6.48h6.82l2.11,6.48z"/>
<path d="M710.5,753.3l-5.52,-4.01l2.11,-6.48h6.82l2.11,6.48z"/>
<path d="M716.5,737.3l-5.52,-4.01l2.11,-6.48h6.82l2.11,6.48z"/>
<path d="M722.5,763.3l-5.52,-4.01l2.11,-6.48h6.82l2.11,6.48z"/>
<path d="M728.5,811.3l-5.52,-4.01l2.11,-6.48h6.82l2.11,6.48z"/>
<path d="M734.5,862.3l-5.52,-4.01l2.11,-6.48h6.82l2.11,6.48z"/>
<path d="M741.5,868.3l-5.52,-4.01l2.11,-6.48h6.82l2.11,6.48z"/>
<path d="M747.5,873.3l-5.52,-4.01l2.11,-6.48h6.82l2.11,6.48z"/>
<path d="M753.5,870.3l-5.52,-4.01l2.11,-6.48h6.82l2.11,6.48z"/>
<path d="M759.5,845.3l-5.52,-4.01l2.11,-6.48h6.82l2.11,6.48z"/>
<path d="M765.5,848.3l-5.52,-4.01l2.11,-6.48h6.82l2.11,6.48z"/>
<path d="M771.5,796.3l-5.52,-4.01l2.11,-6.48h6.82l2.11,6.48z"/>
<path d="M777.5,781.3l-5.52,-4.01l2.11,-6.48h6.82l2.11,6.48z"/>
<path d="M784.5,778.3l-5.52,-4.01l2.11,-6.48h6.82l2.11,6.48z"/>
<path d="M790.5,749.3l-5.52,-4.01l2.11,-6.48h6.82l2.11,6.48z"/>
<path d="M796.5,744.3l-5.52,-4.01l2.11,-6.48h6.82l2.11,6.48z"/>
<path d="M802.5,744.3l-5.52,-4.01l2.11,-6.48h6.82l2.11,6.48z"/>
<path d="M808.5,763.3l-5.52,-4.01l2.11,-6.48h6.82l2.11,6.48z"/>
<path d="M814.5,795.3l-5.52,-4.01l2.11,-6.48h6.82l2.11,6.48z"/>
<path d="M820.5,820.3l-5.52,-4.01l2.11,-6.48h6.82l2.11,6.48z"/>
<path d="M827.5,860.3l-5.52,-4.01l2.11,-6.48h6.82l2.11,6.48z"/>
<path d="M833.5,862.3l-5.52,-4.01l2.11,-6.48h6.82l2.11,6.48z"/>
<path d="M839.5,856.3l-5.52,-4.01l2.11,-6.48h6.82l2.11,6.48z"/>
<path d="M845.5,856.3l-5.52,-4.01l2.11,-6.48h6.82l2.11,6.48z"/>
<path d="M851.5,855.3l-5.52,-4.01l2.11,-6.48h6.82l2.11,6.48z"/>
<path d="M857.5,856.3l-5.52,-4.01l2.11,-6.48h6.82l2.11,6.48z"/>
<path d="M864.5,858.3l-5.52,-4.01l2.11,-6.48h6.82l2.11,6.48z"/>
<path d="M870.5,861.3l-5.52,-4.01l2.11,-6.48h6.82l2.11,6.48z"/>
<path d="M876.5,866.3l-5.52,-4.01l2.11,-6.48h6.82l2.11,6.48z"/>
<path d="M882.5,867.3l-5.52,-4.01l2.11,-6.48h6.82l2.11,6.48z"/>
<path d="M888.5,870.3l-5.52,-4.01l2.11,-6.48h6.82l2.11,6.48z"/>
<path d="M894.5,869.3l-5.52,-4.01l2.11,-6.48h6.82l2.11,6.48z"/>
<path d="M900.5,870.3l-5.52,-4.01l2.11,-6.48h6.82l2.11,6.48z"/>
<path d="M907.5,869.3l-5.52,-4.01l2.11,-6.48h6.82l2.11,6.48z"/>
<path d="M913.5,871.3l-5.52,-4.01l2.11,-6.48h6.82l2.11,6.48z"/>
<path d="M919.5,872.3l-5.52,-4.01l2.11,-6.48h6.82l2.11,6.48z"/>
<path d="M925.5,864.3l-5.52,-4.01l2.11,-6.48h6.82l2.11,6.48z"/>
<path d="M931.5,858.3l-5.52,-4.01l2.11,-6.48h6.82l2.11,6.48z"/>
<path d="M937.5,856.3l-5.52,-4.01l2.11,-6.48h6.82l2.11,6.48z"/>
<path d="M943.5,859.3l-5.52,-4.01l2.11,-6.48h6.82l2.11,6.48z"/>
<path d="M950.5,860.3l-5.52,-4.01l2.11,-6.48h6.82l2.11,6.48z"/>
<path d="M956.5,862.3l-5.52,-4.01l2.11,-6.48h6.82l2.11,6.48z"/>
<path d="M962.5,876.3l-5.52,-4.01l2.11,-6.48h6.82l2.11,6.48z"/>
<path d="M968.5,875.3l-5.52,-4.01l2.11,-6.48h6.82l2.11,6.48z"/>
<path d="M987.5,873.3l-5.52,-4.01l2.11,-6.48h6.82l2.11,6.48z"/>
<path d="M1005.5,870.3l-5.52,-4.01l2.11,-6.48h6.82l2.11,6.48z"/>
<path d="M1023.5,869.3l-5.52,-4.01l2.11,-6.48h6.82l2.11,6.48z"/>
<path d="M1042.5,880.3l-5.52,-4.01l2.11,-6.48h6.82l2.11,6.48z"/>
<path d="M1060.5,869.3l-5.52,-4.01l2.11,-6.48h6.82l2.11,6.48z"/>
<path d="M1079.5,862.3l-5.52,-4.01l2.11,-6.48h6.82l2.11,6.48z"/>
<path d="M1097.5,881.3l-5.52,-4.01l2.11,-6.48h6.82l2.11,6.48z"/>
<path d="M1116.5,880.3l-5.52,-4.01l2.11,-6.48h6.82l2.11,6.48z"/>
<path d="M1134.5,880.3l-5.52,-4.01l2.11,-6.48h6.82l2.11,6.48z"/>
<path d="M1153.5,891.3l-5.52,-4.01l2.11,-6.48h6.82l2.11,6.48z"/>
<path d="M1171.5,888.3l-5.52,-4.01l2.11,-6.48h6.82l2.11,6.48z"/>
<path d="M1190.5,896.3l-5.52,-4.01l2.11,-6.48h6.82l2.11,6.48z"/>
<path d="M1208.5,894.3l-5.52,-4.01l2.11,-6.48h6.82l2.11,6.48z"/>
<path d="M1226.5,886.3l-5.52,-4.01l2.11,-6.48h6.82l2.11,6.48z"/>
<path d="M1245.5,882.3l-5.52,-4.01l2.11,-6.48h6.82l2.11,6.48z"/>
<path d="M1263.5,888.3l-5.52,-4.01l2.11,-6.48h6.82l2.11,6.48z"/>
<path d="M1282.5,876.3l-5.52,-4.01l2.11,-6.48h6.82l2.11,6.48z"/>
<path d="M1300.5,875.3l-5.52,-4.01l2.11,-6.48h6.82l2.11,6.48z"/>
<path d="M1319.5,859.3l-5.52,-4.01l2.11,-6.48h6.82l2.11,6.48z"/>
<path d="M1337.5,873.3l-5.52,-4.01l2.11,-6.48h6.82l2.11,6.48z"/>
<path d="M1356.5,860.3l-5.52,-4.01l2.11,-6.48h6.82l2.11,6.48z"/>
<path d="M1374.5,823.3l-5.52,-4.01l2.11,-6.48h6.82l2.11,6.48z"/>
<path d="M1392.5,767.3l-5.52,-4.01l2.11,-6.48h6.82l2.11,6.48z"/>
<path d="M1411.5,880.3l-5.52,-4.01l2.11,-6.48h6.82l2.11,6.48z"/>
<path d="M1429.5,894.3l-5.52,-4.01l2.11,-6.48h6.82l2.11,6.48z"/>
<path d="M1448.5,909.3l-5.52,-4.01l2.11,-6.48h6.82l2.11,6.48z"/>
</g>
<g fill="none" stroke="#ffa500" stroke-width="1">
<path d="M1383.1,277.5h10.8M1388.5,272.1v10.8M1383.1,272.1l10.8,10.8M1383.1,282.9l10.8,-10.8"/>
<path d="M231.1,843.5h10.8M236.5,838.1v10.8M231.1,838.1l10.8,10.8M231.1,848.9l10.8,-10.8"/>
<path d="M237.1,837.5h10.8M242.5,832.1v10.8M237.1,832.1l10.8,10.8M237.1,842.9l10.8,-10.8"/>
<path d="M243.1,828.5h10.8M248.5,823.1v10.8M243.1,823.1l10.8,10.8M243.1,833.9l10.8,-10.8"/>
<path d="M250.1,823.5h10.8M255.5,818.1v10.8M250.1,818.1l10.8,10.8M250.1,828.9l10.8,-10.8"/>
<path d="M256.1,816.5h10.8M261.5,811.1v10.8M256.1,811.1l10.8,10.8M256.1,821.9l10.8,-10.8"/>
<path d="M262.1,810.5h10.8M267.5,805.1v10.8M262.1,805.1l10.8,10.8M262.1,815.9l10.8,-10.8"/>
<path d="M268.1,802.5h10.8M273.5,797.1v10.8M268.1,797.1l10.8,10.8M268.1,807.9l10.8,-10.8"/>
<path d="M274.1,786.5h10.8M279.5,781.1v10.8M274.1,781.1l10.8,10.8M274.1,791.9l10.8,-10.8"/>
<path d="M280.1,776.5h10.8M285.5,771.1v10.8M280.1,771.1l10.8,10.8M280.1,781.9l10.8,-10.8"/>
<path d="M287.1,762.5h10.8M292.5,757.1v10.8M287.1,757.1l10.8,10.8M287.1,767.9l10.8,-10.8"/>
<path d="M293.1,755.5h10.8M298.5,750.1v10.8M293.1,750.1l10.8,10.8M293.1,760.9l10.8,-10.8"/>
<path d="M299.1,748.5h10.8M304.5,743.1v10.8M299.1,743.1l10.8,10.8M299.1,753.9l10.8,-10.8"/>
<path d="M305.1,738.5h10.8M310.5,733.1v10.8M305.1,733.1l10.8,10.8M305.1,743.9l10.8,-10.8"/>
<path d="M311.1,731.5h10.8M316.5,726.1v10.8M311.1,726.1l10.8,10.8M311.1,736.9l10.8,-10.8"/>
<path d="M317.1,724.5h10.8M322.5,719.1v10.8M317.1,719.1l10.8,10.8M317.1,729.9l10.8,-10.8"/>
<path d="M323.1,718.5h10.8M328.5,713.1v10.8M323.1,713.1l10.8,10.8M323.1,723.9l10.8,-10.8"/>
<path d="M330.1,713.5h10.8M335.5,708.1v10.8M330.1,708.1l10.8,10.8M330.1,718.9l10.8,-10.8"/>
<path d="M336.1,714.5h10.8M341.5,709.1v10.8M336.1,709.1l10.8,10.8M336.1,719.9l10.8,-10.8"/>
<path d="M342.1,672.5h10.8M347.5,667.1v10.8M342.1,667.1l10.8,10.8M342.1,677.9l10.8,-10.8"/>
<path d="M348.1,628.5h10.8M353.5,623.1v10.8M348.1,623.1l10.8,10.8M348.1,633.9l10.8,-10.8"/>
<path d="M354.1,587.5h10.8M359.5,582.1v10.8M354.1,582.1l10.8,10.8M354.1,592.9l10.8,-10.8"/>
<path d="M360.1,570.5h10.8M365.5,565.1v10.8M360.1,565.1l10.8,10.8M360.1,575.9l10.8,-10.8"/>
<path d="M366.1,586.5h10.8M371.5,581.1v10.8M366.1,581.1l10.8,10.8M366.1,591.9l10.8,-10.8"/>
<path d="M373.1,619.5h10.8M378.5,614.1v10.8M373.1,614.1l10.8,10.8M373.1,624.9l10.8,-10.8"/>
<path d="M379.1,606.5h10.8M384.5,601.1v10.8M379.1,601.1l10.8,10.8M379.1,611.9l10.8,-10.8"/>
<path d="M385.1,601.5h10.8M390.5,596.1v10.8M385.1,596.1l10.8,10.8M385.1,606.9l10.8,-10.8"/>
<path d="M391.1,607.5h10.8M396.5,602.1v10.8M391.1,602.1l10.8,10.8M391.1,612.9l10.8,-10.8"/>
<path d="M397.1,617.5h10.8M402.5,612.1v10.8M397.1,612.1l10.8,10.8M397.1,622.9l10.8,-10.8"/>
<path d="M403.1,634.5h10.8M408.5,629.1v10.8M403.1,629.1l10.8,10.8M403.1,639.9l10.8,-10.8"/>
<path d="M410.1,655.5h10.8M415.5,650.1v10.8M410.1,650.1l10.8,10.8M410.1,660.9l10.8,-10.8"/>
<path d="M416.1,675.5h10.8M421.5,670.1v10.8M416.1,670.1l10.8,10.8M416.1,680.9l10.8,-10.8"/>
<path d="M422.1,697.5h10.8M427.5,692.1v10.8M422.1,692.1l10.8,10.8M422.1,702.9l10.8,-10.8"/>
<path d="M428.1,723.5h10.8M433.5,718.1v10.8M428.1,718.1l10.8,10.8M428.1,728.9l10.8,-10.8"/>
<path d="M434.1,748.5h10.8M439.5,743.1v10.8M434.1,743.1l10.8,10.8M434.1,753.9l10.8,-10.8"/>
<path d="M440.1,778.5h10.8M445.5,773.1v10.8M440.1,773.1l10.8,10.8M440.1,783.9l10.8,-10.8"/>
<path d="M446.1,806.5h10.8M451.5,801.1v10.8M446.1,801.1l10.8,10.8M446.1,811.9l10.8,-10.8"/>
<path d="M465.1,826.5h10.8M470.5,821.1v10.8M465.1,821.1l10.8,10.8M465.1,831.9l10.8,-10.8"/>
<path d="M483.1,807.5h10.8M488.5,802.1v10.8M483.1,802.1l10.8,10.8M483.1,812.9l10.8,-10.8"/>
<path d="M502.1,753.5h10.8M507.5,748.1v10.8M502.1,748.1l10.8,10.8M502.1,758.9l10.8,-10.8"/>
<path d="M520.1,760.5h10.8M525.5,755.1v10.8M520.1,755.1l10.8,10.8M520.1,765.9l10.8,-10.8"/>
<path d="M539.1,740.5h10.8M544.5,735.1v10.8M539.1,735.1l10.8,10.8M539.1,745.9l10.8,-10.8"/>
<path d="M557.1,732.5h10.8M562.5,727.1v10.8M557.1,727.1l10.8,10.8M557.1,737.9l10.8,-10.8"/>
<path d="M576.1,714.5h10.8M581.5,709.1v10.8M576.1,709.1l10.8,10.8M576.1,719.9l10.8,-10.8"/>
<path d="M594.1,711.5h10.8M599.5,706.1v10.8M594.1,706.1l10.8,10.8M594.1,716.9l10.8,-10.8"/>
<path d="M612.1,718.5h10.8M617.5,713.1v10.8M612.1,713.1l10.8,10.8M612.1,723.9l10.8,-10.8"/>
<path d="M631.1,710.5h10.8M636.5,705.1v10.8M631.1,705.1l10.8,10.8M631.1,715.9l10.8,-10.8"/>
<path d="M649.1,711.5h10.8M654.5,706.1v10.8M649.1,706.1l10.8,10.8M649.1,716.9l10.8,-10.8"/>
<path d="M668.1,782.5h10.8M673.5,777.1v10.8M668.1,777.1l10.8,10.8M668.1,787.9l10.8,-10.8"/>
<path d="M686.1,801.5h10.8M691.5,796.1v10.8M686.1,796.1l10.8,10.8M686.1,806.9l10.8,-10.8"/>
<path d="M705.1,822.5h10.8M710.5,817.1v10.8M705.1,817.1l10.8,10.8M705.1,827.9l10.8,-10.8"/>
<path d="M723.1,831.5h10.8M728.5,826.1v10.8M723.1,826.1l10.8,10.8M723.1,836.9l10.8,-10.8"/>
<path d="M742.1,840.5h10.8M747.5,835.1v10.8M742.1,835.1l10.8,10.8M742.1,845.9l10.8,-10.8"/>
<path d="M760.1,850.5h10.8M765.5,845.1v10.8M760.1,845.1l10.8,10.8M760.1,855.9l10.8,-10.8"/>
<path d="M779.1,838.5h10.8M784.5,833.1v10.8M779.1,833.1l10.8,10.8M779.1,843.9l10.8,-10.8"/>
<path d="M797.1,825.5h10.8M802.5,820.1v10.8M797.1,820.1l10.8,10.8M797.1,830.9l10.8,-10.8"/>
<path d="M815.1,847.5h10.8M820.5,842.1v10.8M815.1,842.1l10.8,10.8M815.1,852.9l10.8,-10.8"/>
<path d="M834.1,848.5h10.8M839.5,843.1v10.8M834.1,843.1l10.8,10.8M834.1,853.9l10.8,-10.8"/>
<path d="M852.1,849.5h10.8M857.5,844.1v10.8M852.1,844.1l10.8,10.8M852.1,854.9l10.8,-10.8"/>
<path d="M871.1,851.5h10.8M876.5,846.1v10.8M871.1,846.1l10.8,10.8M871.1,856.9l10.8,-10.8"/>
<path d="M889.1,855.5h10.8M894.5,850.1v10.8M889.1,850.1l10.8,10.8M889.1,860.9l10.8,-10.8"/>
<path d="M908.1,861.5h10.8M913.5,856.1v10.8M908.1,856.1l10.8,10.8M908.1,866.9l10.8,-10.8"/>
<path d="M926.1,857.5h10.8M931.5,852.1v10.8M926.1,852.1l10.8,10.8M926.1,862.9l10.8,-10.8"/>
<path d="M945.1,841.5h10.8M950.5,836.1v10.8M945.1,836.1l10.8,10.8M945.1,846.9l10.8,-10.8"/>
<path d="M963.1,845.5h10.8M968.5,840.1v10.8M963.1,840.1l10.8,10.8M963.1,850.9l10.8,-10.8"/>
<path d="M982.1,849.5h10.8M987.5,844.1v10.8M982.1,844.1l10.8,10.8M982.1,854.9l10.8,-10.8"/>
<path d="M1000.1,850.5h10.8M1005.5,845.1v10.8M1000.1,845.1l10.8,10.8M1000.1,855.9l10.8,-10.8"/>
<path d="M1018.1,847.5h10.8M1023.5,842.1v10.8M1018.1,842.1l10.8,10.8M1018.1,852.9l10.8,-10.8"/>
<path d="M1037.1,845.5h10.8M1042.5,840.1v10.8M1037.1,840.1l10.8,10.8M1037.1,850.9l10.8,-10.8"/>
<path d="M1055.1,852.5h10.8M1060.5,847.1v10.8M1055.1,847.1l10.8,10.8M1055.1,857.9l10.8,-10.8"/>
<path d="M1074.1,839.5h10.8M1079.5,834.1v10.8M1074.1,834.1l10.8,10.8M1074.1,844.9l10.8,-10.8"/>
<path d="M1092.1,820.5h10.8M1097.5,815.1v10.8M1092.1,815.1l10.8,10.8M1092.1,825.9l10.8,-10.8"/>
<path d="M1111.1,839.5h10.8M1116.5,834.1v10.8M1111.1,834.1l10.8,10.8M1111.1,844.9l10.8,-10.8"/>
<path d="M1129.1,850.5h10.8M1134.5,845.1v10.8M1129.1,845.1l10.8,10.8M1129.1,855.9l10.8,-10.8"/>
<path d="M1148.1,854.5h10.8M1153.5,849.1v10.8M1148.1,849.1l10.8,10.8M1148.1,859.9l10.8,-10.8"/>
<path d="M1166.1,859.5h10.8M1171.5,854.1v10.8M1166.1,854.1l10.8,10.8M1166.1,864.9l10.8,-10.8"/>
<path d="M1185.1,864.5h10.8M1190.5,859.1v10.8M1185.1,859.1l10.8,10.8M1185.1,869.9l10.8,-10.8"/>
<path d="M1203.1,870.5h10.8M1208.5,865.1v10.8M1203.1,865.1l10.8,10.8M1203.1,875.9l10.8,-10.8"/>
<path d="M1221.1,860.5h10.8M1226.5,855.1v10.8M1221.1,855.1l10.8,10.8M1221.1,865.9l10.8,-10.8"/>
<path d="M1240.1,846.5h10.8M1245.5,841.1v10.8M1240.1,841.1l10.8,10.8M1240.1,851.9l10.8,-10.8"/>
<path d="M1258.1,856.5h10.8M1263.5,851.1v10.8M1258.1,851.1l10.8,10.8M1258.1,861.9l10.8,-10.8"/>
<path d="M1277.1,859.5h10.8M1282.5,854.1v10.8M1277.1,854.1l10.8,10.8M1277.1,864.9l10.8,-10.8"/>
<path d="M1295.1,859.5h10.8M1300.5,854.1v10.8M1295.1,854.1l10.8,10.8M1295.1,864.9l10.8,-10.8"/>
<path d="M1314.1,854.5h10.8M1319.5,849.1v10.8M1314.1,849.1l10.8,10.8M1314.1,859.9l10.8,-10.8"/>
<path d="M1332.1,847.5h10.8M1337.5,842.1v10.8M1332.1,842.1l10.8,10.8M1332.1,852.9l10.8,-10.8"/>
<path d="M1351.1,851.5h10.8M1356.5,846.1v10.8M1351.1,846.1l10.8,10.8M1351.1,856.9l10.8,-10.8"/>
<path d="M1369.1,833.5h10.8M1374.5,828.1v10.8M1369.1,828.1l10.8,10.8M1369.1,838.9l10.8,-10.8"/>
<path d="M1387.1,821.5h10.8M1392.5,816.1v10.8M1387.1,816.1l10.8,10.8M1387.1,826.9l10.8,-10.8"/>
<path d="M1406.1,836.5h10.8M1411.5,831.1v10.8M1406.1,831.1l10.8,10.8M1406.1,841.9l10.8,-10.8"/>
<path d="M1443.1,835.5h10.8M1448.5,830.1v10.8M1443.1,830.1l10.8,10.8M1443.1,840.9l10.8,-10.8"/>
</g>
</svg></body></html>
